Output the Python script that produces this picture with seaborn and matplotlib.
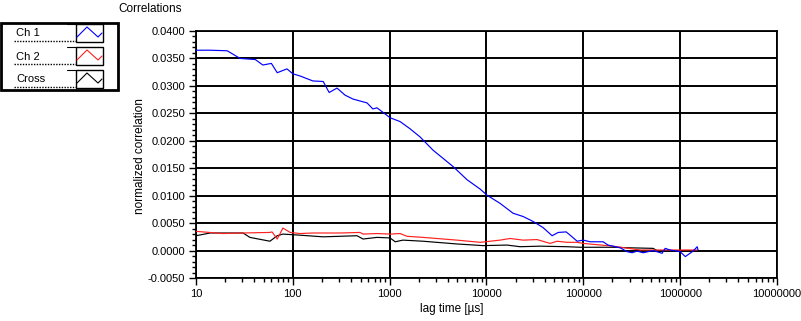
import numpy as np
import pandas as pd
import matplotlib
matplotlib.use("Agg")
import matplotlib.pyplot as plt
import matplotlib.ticker as mticker
from matplotlib.patches import Rectangle
from matplotlib.lines import Line2D
import seaborn as sns

# ---------------- data ----------------
ch1_lag = [10, 14, 21, 28.5, 41, 49, 60, 69, 87, 100, 119, 161, 206, 237, 286, 347, 418, 584,
           670, 740, 1010, 1280, 1620, 2060, 2800, 4520, 6300, 8600, 10100, 13800, 18800,
           23900, 30300, 38300, 47600, 55000, 66400, 73100, 86300, 99600, 118000, 160000,
           180000, 240000, 283000, 319000, 359000, 415000, 526000, 651000, 700000, 788000,
           1000000, 1130000, 1360000, 1500000, 1530000]
ch1_val = [0.0365, 0.0365, 0.0364, 0.0350, 0.0348, 0.0338, 0.0341, 0.0324, 0.0331, 0.0322,
           0.0318, 0.0309, 0.0308, 0.0288, 0.0296, 0.0283, 0.0276, 0.0269, 0.0258, 0.0260,
           0.0242, 0.0235, 0.0222, 0.0207, 0.0183, 0.0153, 0.0129, 0.0112, 0.0101, 0.0086,
           0.0068, 0.0062, 0.0053, 0.0042, 0.0027, 0.0033, 0.0034, 0.0028, 0.0017, 0.0019,
           0.0016, 0.0016, 0.0010, 0.0005, -0.0002, -0.0004, -0.0001, -0.0004, 0.0000,
           -0.0005, 0.0004, 0.0001, -0.0002, -0.0011, -0.0001, 0.0007, 0.0001]

ch2_lag = [10, 19, 30.6, 58, 61, 69, 79, 94, 119, 161, 308, 494, 531, 740, 1010, 1280, 1510,
           2210, 4960, 8600, 13800, 17500, 23900, 33300, 45400, 53600, 68000, 86300, 99600,
           203000, 386000, 1500000]
ch2_val = [0.0035, 0.0031, 0.0032, 0.0033, 0.0034, 0.0021, 0.0041, 0.0033, 0.0031, 0.0032,
           0.0032, 0.0033, 0.0030, 0.0031, 0.0030, 0.0031, 0.0026, 0.0024, 0.0019, 0.0015,
           0.0019, 0.0022, 0.0019, 0.0020, 0.0013, 0.0017, 0.0015, 0.0015, 0.0013, 0.0008,
           0.0001, 0.0001]

cross_lag = [10, 14, 30.6, 36, 58, 69, 79, 119, 206, 460, 531, 740, 1010, 1140, 1370, 2210,
             4960, 9220, 16300, 22200, 35800, 68000, 92700, 203000, 304000, 526000, 575000,
             1360000]
cross_val = [0.0027, 0.0032, 0.0032, 0.0024, 0.0017, 0.0027, 0.0030, 0.0028, 0.0025, 0.0027,
             0.0021, 0.0024, 0.0023, 0.0016, 0.0019, 0.0017, 0.0012, 0.0009, 0.0010, 0.0007,
             0.0008, 0.0007, 0.0006, 0.0006, 0.0005, 0.0004, 0.0000, -0.0001]

series_names = ["Ch 1", "Ch 2", "Cross"]
series_colors = {"Ch 1": "#0000ff", "Ch 2": "#ff2020", "Cross": "#000000"}
y_ticks = [-0.005, 0.0, 0.005, 0.010, 0.015, 0.020, 0.025, 0.030, 0.035, 0.040]
x_ticks = [10, 100, 1000, 10000, 100000, 1000000, 10000000]

df = pd.concat([
    pd.DataFrame({"lag": ch1_lag, "corr": ch1_val, "series": "Ch 1"}),
    pd.DataFrame({"lag": ch2_lag, "corr": ch2_val, "series": "Ch 2"}),
    pd.DataFrame({"lag": cross_lag, "corr": cross_val, "series": "Cross"}),
], ignore_index=True)

# ---------------- style ----------------
sns.set_style("ticks")
plt.rcParams["font.family"] = ["Liberation Sans", "DejaVu Sans"]
plt.rcParams["text.color"] = "black"

W, H = 801, 321
fig = plt.figure(figsize=(W / 100, H / 100), dpi=100)
fig.patch.set_facecolor("white")

def fx(px):
    return px / W

def fy(py):
    return 1 - py / H

L, R, T, B = 196, 777, 31, 278
ax = fig.add_axes([fx(L), fy(B), fx(R) - fx(L), (B - T) / H])

# draw Cross first, then Ch 2, then Ch 1 on top
for name in ["Cross", "Ch 2", "Ch 1"]:
    sns.lineplot(data=df[df["series"] == name], x="lag", y="corr", color=series_colors[name],
                 estimator=None, linewidth=0.85, ax=ax, legend=False, zorder=3)

ax.set_xscale("log")
ax.set_xlim(10, 1e7)
ax.set_ylim(-0.005, 0.04)
ax.set_xlabel("")
ax.set_ylabel("")

ax.xaxis.set_major_locator(mticker.FixedLocator(x_ticks))
ax.xaxis.set_major_formatter(mticker.FuncFormatter(lambda v, p: f"{int(round(v))}"))
ax.xaxis.set_minor_locator(mticker.LogLocator(base=10, subs=np.arange(2, 10), numticks=50))
ax.xaxis.set_minor_formatter(mticker.NullFormatter())
ax.yaxis.set_major_locator(mticker.FixedLocator(y_ticks))
ax.yaxis.set_major_formatter(mticker.FuncFormatter(lambda v, p: f"{v:.4f}"))
ax.yaxis.set_minor_locator(mticker.MultipleLocator(0.001))

ax.grid(True, which="major", color="black", linewidth=1.4)
ax.set_axisbelow(True)
for s in ax.spines.values():
    s.set_color("black")
    s.set_linewidth(1.3)

ax.tick_params(which="major", length=5, width=1, color="black", labelsize=8,
               labelcolor="black", pad=3)
ax.tick_params(which="minor", length=3, width=1, color="black")

# labels
fig.text(fx(150), fy(9), "Correlations", ha="center", va="center", fontsize=8.5)
fig.text(fx(140), fy(156), "normalized correlation", ha="center", va="center",
         rotation=90, fontsize=8.5)
fig.text(fx(452), fy(309), "lag time [µs]", ha="center", va="center", fontsize=8.5)

# ---------------- manual legend (LabVIEW-like) ----------------
def frect(x0, y0, x1, y1, lw, **kw):
    r = Rectangle((fx(x0), fy(y1)), fx(x1) - fx(x0), fy(y0) - fy(y1), transform=fig.transFigure,
                  fill=False, edgecolor="black", linewidth=lw, **kw)
    fig.add_artist(r)

def fline(xs, ys, **kw):
    fig.add_artist(Line2D([fx(v) for v in xs], [fy(v) for v in ys],
                          transform=fig.transFigure, **kw))

frect(1, 23, 118, 90, 2.0)
rows = [(24, 42), (47, 65), (70, 88)]
for name, (t, b) in zip(series_names, rows):
    # label
    fig.text(fx(16), fy((t + b) / 2 + 0.5), name, ha="left", va="center", fontsize=8)
    # dotted underline
    fline([14, 76], [b - 1, b - 1], color="black", linewidth=1, linestyle=(0, (1, 1)))
    # short top tab line
    fline([67, 76], [t, t], color="black", linewidth=0.8)
    # icon box
    frect(76, t, 103, b, 1.0)
    # zigzag icon
    fline([77, 87, 98, 102], [b - 5, t + 3, b - 5, b - 9], color=series_colors[name],
          linewidth=0.8)

fig.savefig("out.png", dpi=100, facecolor="white")
